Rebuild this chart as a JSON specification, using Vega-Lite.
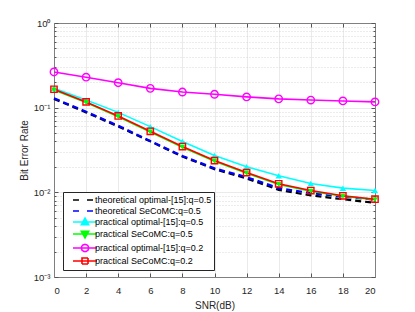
{
  "$schema": "https://vega.github.io/schema/vega-lite/v6.json",
  "width": 321,
  "height": 254,
  "autosize": {"type": "none"},
  "padding": {"left": 54, "top": 23, "right": 40, "bottom": 35},
  "background": "white",
  "config": {
    "font": "Liberation Sans",
    "view": {"stroke": null},
    "axis": {"labelFont": "Liberation Sans", "titleFont": "Liberation Sans", "labelColor": "#262626", "titleColor": "#262626", "titleFontWeight": "normal", "domainColor": "#808080", "tickColor": "#555555", "gridColor": "#e4e4e4", "gridWidth": 0.8},
    "legend": {"labelFont": "Liberation Sans"}
  },
  "data": {"values": [
    {"series": "theoretical optimal-[15]:q=0.5", "snr": 0, "ber": 0.127},
    {"series": "theoretical optimal-[15]:q=0.5", "snr": 2, "ber": 0.088},
    {"series": "theoretical optimal-[15]:q=0.5", "snr": 4, "ber": 0.060},
    {"series": "theoretical optimal-[15]:q=0.5", "snr": 6, "ber": 0.040},
    {"series": "theoretical optimal-[15]:q=0.5", "snr": 8, "ber": 0.0265},
    {"series": "theoretical optimal-[15]:q=0.5", "snr": 10, "ber": 0.0188},
    {"series": "theoretical optimal-[15]:q=0.5", "snr": 12, "ber": 0.0146},
    {"series": "theoretical optimal-[15]:q=0.5", "snr": 14, "ber": 0.0107},
    {"series": "theoretical optimal-[15]:q=0.5", "snr": 16, "ber": 0.0092},
    {"series": "theoretical optimal-[15]:q=0.5", "snr": 18, "ber": 0.0083},
    {"series": "theoretical optimal-[15]:q=0.5", "snr": 20, "ber": 0.0075},
    {"series": "theoretical SeCoMC:q=0.5", "snr": 0, "ber": 0.129},
    {"series": "theoretical SeCoMC:q=0.5", "snr": 2, "ber": 0.0897},
    {"series": "theoretical SeCoMC:q=0.5", "snr": 4, "ber": 0.0613},
    {"series": "theoretical SeCoMC:q=0.5", "snr": 6, "ber": 0.0404},
    {"series": "theoretical SeCoMC:q=0.5", "snr": 8, "ber": 0.0269},
    {"series": "theoretical SeCoMC:q=0.5", "snr": 10, "ber": 0.0192},
    {"series": "theoretical SeCoMC:q=0.5", "snr": 12, "ber": 0.0151},
    {"series": "theoretical SeCoMC:q=0.5", "snr": 14, "ber": 0.0112},
    {"series": "theoretical SeCoMC:q=0.5", "snr": 16, "ber": 0.0098},
    {"series": "theoretical SeCoMC:q=0.5", "snr": 18, "ber": 0.0089},
    {"series": "theoretical SeCoMC:q=0.5", "snr": 20, "ber": 0.0082},
    {"series": "practical optimal-[15]:q=0.5", "snr": 0, "ber": 0.169},
    {"series": "practical optimal-[15]:q=0.5", "snr": 2, "ber": 0.123},
    {"series": "practical optimal-[15]:q=0.5", "snr": 4, "ber": 0.088},
    {"series": "practical optimal-[15]:q=0.5", "snr": 6, "ber": 0.0597},
    {"series": "practical optimal-[15]:q=0.5", "snr": 8, "ber": 0.0398},
    {"series": "practical optimal-[15]:q=0.5", "snr": 10, "ber": 0.0272},
    {"series": "practical optimal-[15]:q=0.5", "snr": 12, "ber": 0.020},
    {"series": "practical optimal-[15]:q=0.5", "snr": 14, "ber": 0.0157},
    {"series": "practical optimal-[15]:q=0.5", "snr": 16, "ber": 0.0127},
    {"series": "practical optimal-[15]:q=0.5", "snr": 18, "ber": 0.0112},
    {"series": "practical optimal-[15]:q=0.5", "snr": 20, "ber": 0.0105},
    {"series": "practical SeCoMC:q=0.5", "snr": 0, "ber": 0.162},
    {"series": "practical SeCoMC:q=0.5", "snr": 2, "ber": 0.115},
    {"series": "practical SeCoMC:q=0.5", "snr": 4, "ber": 0.0783},
    {"series": "practical SeCoMC:q=0.5", "snr": 6, "ber": 0.0516},
    {"series": "practical SeCoMC:q=0.5", "snr": 8, "ber": 0.0341},
    {"series": "practical SeCoMC:q=0.5", "snr": 10, "ber": 0.0233},
    {"series": "practical SeCoMC:q=0.5", "snr": 12, "ber": 0.0168},
    {"series": "practical SeCoMC:q=0.5", "snr": 14, "ber": 0.0124},
    {"series": "practical SeCoMC:q=0.5", "snr": 16, "ber": 0.0103},
    {"series": "practical SeCoMC:q=0.5", "snr": 18, "ber": 0.0090},
    {"series": "practical SeCoMC:q=0.5", "snr": 20, "ber": 0.0082},
    {"series": "practical optimal-[15]:q=0.2", "snr": 0, "ber": 0.264},
    {"series": "practical optimal-[15]:q=0.2", "snr": 2, "ber": 0.229},
    {"series": "practical optimal-[15]:q=0.2", "snr": 4, "ber": 0.197},
    {"series": "practical optimal-[15]:q=0.2", "snr": 6, "ber": 0.169},
    {"series": "practical optimal-[15]:q=0.2", "snr": 8, "ber": 0.153},
    {"series": "practical optimal-[15]:q=0.2", "snr": 10, "ber": 0.144},
    {"series": "practical optimal-[15]:q=0.2", "snr": 12, "ber": 0.134},
    {"series": "practical optimal-[15]:q=0.2", "snr": 14, "ber": 0.127},
    {"series": "practical optimal-[15]:q=0.2", "snr": 16, "ber": 0.123},
    {"series": "practical optimal-[15]:q=0.2", "snr": 18, "ber": 0.120},
    {"series": "practical optimal-[15]:q=0.2", "snr": 20, "ber": 0.117},
    {"series": "practical SeCoMC:q=0.2", "snr": 0, "ber": 0.165},
    {"series": "practical SeCoMC:q=0.2", "snr": 2, "ber": 0.117},
    {"series": "practical SeCoMC:q=0.2", "snr": 4, "ber": 0.0798},
    {"series": "practical SeCoMC:q=0.2", "snr": 6, "ber": 0.0526},
    {"series": "practical SeCoMC:q=0.2", "snr": 8, "ber": 0.0347},
    {"series": "practical SeCoMC:q=0.2", "snr": 10, "ber": 0.0237},
    {"series": "practical SeCoMC:q=0.2", "snr": 12, "ber": 0.0171},
    {"series": "practical SeCoMC:q=0.2", "snr": 14, "ber": 0.0126},
    {"series": "practical SeCoMC:q=0.2", "snr": 16, "ber": 0.0105},
    {"series": "practical SeCoMC:q=0.2", "snr": 18, "ber": 0.0091},
    {"series": "practical SeCoMC:q=0.2", "snr": 20, "ber": 0.0083}
  ]},
  "resolve": {"axis": {"x": "independent", "y": "independent"}},
  "layer": [
    {
      "transform": [{"filter": "indexof(datum.series, 'theoretical') == 0"}],
      "mark": {"type": "line", "strokeDash": [6, 4], "strokeWidth": 2.2},
      "encoding": {
        "x": {"field": "snr", "type": "quantitative", "scale": {"domain": [0, 20], "nice": false},
          "axis": {"orient": "bottom", "values": [0, 2, 4, 6, 8, 10, 12, 14, 16, 18, 20], "grid": true, "tickSize": -4, "labelFontSize": 9.5, "labelPadding": 12, "title": "SNR(dB)", "titleFontSize": 10, "titlePadding": 6}},
        "y": {"field": "ber", "type": "quantitative", "scale": {"type": "log", "domain": [0.001, 1], "nice": false},
          "axis": {"orient": "left", "values": [0.001, 0.01, 0.1, 1], "grid": true, "tickSize": -4, "labelFontSize": 9.5, "labelPadding": 8,
            "labelExpr": "datum.value >= 0.5 ? '10⁰' : datum.value >= 0.05 ? '10⁻¹' : datum.value >= 0.005 ? '10⁻²' : '10⁻³'",
            "title": "Bit Error Rate", "titleFontSize": 10, "titlePadding": 4}},
        "color": {"field": "series", "type": "nominal",
          "scale": {"domain": ["theoretical optimal-[15]:q=0.5", "theoretical SeCoMC:q=0.5", "practical optimal-[15]:q=0.5", "practical SeCoMC:q=0.5", "practical optimal-[15]:q=0.2", "practical SeCoMC:q=0.2"],
            "range": ["#000000", "#0000ff", "#00ffff", "#00ff00", "#ff00ff", "#ff0000"]},
          "legend": {"orient": "none", "legendX": 9, "legendY": 169, "title": null, "fillColor": "white", "strokeColor": "#262626", "padding": 2, "labelFontSize": 9, "labelColor": "#000000", "symbolSize": 100, "rowPadding": -3.4, "labelOffset": 14, "symbolOffset": 4,
            "encode": {"symbols": {"update": {
              "shape": {"signal": "['M-0.4,0H0.8M2.4,0H3.6','M-0.4,0H0.8M2.4,0H3.6','M-0.4,0H4.4M2,-0.78L2.72,0.54L1.28,0.54Z','M-0.4,0H4.4M2,0.78L2.72,-0.54L1.28,-0.54Z','M-0.4,0H4.4M2.72,0A0.72,0.72 0 1,1 1.28,0A0.72,0.72 0 1,1 2.72,0Z','M-0.4,0H4.4M1.4,-0.6H2.6V0.6H1.4Z'][indexof(['theoretical optimal-[15]:q=0.5','theoretical SeCoMC:q=0.5','practical optimal-[15]:q=0.5','practical SeCoMC:q=0.5','practical optimal-[15]:q=0.2','practical SeCoMC:q=0.2'], datum.value)]"},
              "fill": {"signal": "['transparent','transparent','#00ffff','#00ff00','white','white'][indexof(['theoretical optimal-[15]:q=0.5','theoretical SeCoMC:q=0.5','practical optimal-[15]:q=0.5','practical SeCoMC:q=0.5','practical optimal-[15]:q=0.2','practical SeCoMC:q=0.2'], datum.value)]"},
              "strokeDash": {"value": [1, 0]},
              "strokeWidth": {"value": 1.6},
              "opacity": {"value": 1}
            }}}}}
      }
    },
    {
      "transform": [{"filter": "indexof(datum.series, 'practical') == 0"}],
      "mark": {"type": "line", "strokeWidth": 1.6},
      "encoding": {
        "x": {"field": "snr", "type": "quantitative",
          "axis": {"orient": "top", "values": [0, 2, 4, 6, 8, 10, 12, 14, 16, 18, 20], "grid": false, "labels": false, "tickSize": -4, "title": null}},
        "y": {"field": "ber", "type": "quantitative",
          "axis": {"orient": "left", "values": [0.002, 0.003, 0.004, 0.005, 0.006, 0.007, 0.008, 0.009, 0.02, 0.03, 0.04, 0.05, 0.06, 0.07, 0.08, 0.09, 0.2, 0.3, 0.4, 0.5, 0.6, 0.7, 0.8, 0.9], "grid": true, "gridDash": [1, 2], "gridColor": "#cfcfcf", "tickSize": -2, "labels": false, "domain": false, "title": null}},
        "color": {"field": "series", "type": "nominal", "legend": null}
      }
    },
    {
      "transform": [{"filter": "datum.series == 'practical optimal-[15]:q=0.5'"}],
      "mark": {"type": "point", "shape": "triangle-up", "filled": true, "size": 40, "color": "#00ffff", "opacity": 1},
      "encoding": {
        "x": {"field": "snr", "type": "quantitative", "axis": null},
        "y": {"field": "ber", "type": "quantitative",
          "axis": {"orient": "right", "values": [0.001, 0.01, 0.1, 1], "grid": false, "labels": false, "tickSize": -4, "title": null}}
      }
    },
    {
      "transform": [{"filter": "datum.series == 'practical SeCoMC:q=0.5'"}],
      "mark": {"type": "point", "shape": "triangle-down", "filled": true, "size": 32, "color": "#00ff00", "opacity": 1},
      "encoding": {
        "x": {"field": "snr", "type": "quantitative", "axis": null},
        "y": {"field": "ber", "type": "quantitative",
          "axis": {"orient": "right", "values": [0.002, 0.003, 0.004, 0.005, 0.006, 0.007, 0.008, 0.009, 0.02, 0.03, 0.04, 0.05, 0.06, 0.07, 0.08, 0.09, 0.2, 0.3, 0.4, 0.5, 0.6, 0.7, 0.8, 0.9], "grid": false, "labels": false, "domain": false, "tickSize": -2, "title": null}}
      }
    },
    {
      "transform": [{"filter": "datum.series == 'practical optimal-[15]:q=0.2'"}],
      "mark": {"type": "point", "shape": "circle", "filled": false, "size": 55, "stroke": "#ff00ff", "strokeWidth": 1.4, "opacity": 1},
      "encoding": {
        "x": {"field": "snr", "type": "quantitative", "axis": null},
        "y": {"field": "ber", "type": "quantitative", "axis": null}
      }
    },
    {
      "transform": [{"filter": "datum.series == 'practical SeCoMC:q=0.2'"}],
      "mark": {"type": "point", "shape": "square", "filled": false, "size": 40, "stroke": "#ff0000", "strokeWidth": 1.4, "opacity": 1},
      "encoding": {
        "x": {"field": "snr", "type": "quantitative", "axis": null},
        "y": {"field": "ber", "type": "quantitative", "axis": null}
      }
    }
  ]
}
